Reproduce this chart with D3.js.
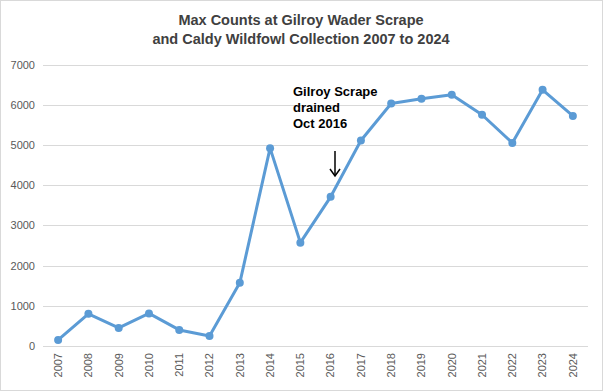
<!DOCTYPE html>
<html><head><meta charset="utf-8">
<script src="https://cdn.jsdelivr.net/npm/d3@7"></script>
<style>html,body{margin:0;padding:0;background:#fff;}svg{display:block;}</style>
</head><body>
<script>
const years = ["2007","2008","2009","2010","2011","2012","2013","2014","2015","2016","2017","2018","2019","2020","2021","2022","2023","2024"];
const counts = [150,800,450,810,400,250,1570,4920,2570,3710,5110,6030,6150,6250,5750,5050,6370,5720];
const yTicks = [0,1000,2000,3000,4000,5000,6000,7000];
const titleLines = ["Max Counts at Gilroy Wader Scrape","and Caldy Wildfowl Collection 2007 to 2024"];
const noteLines = ["Gilroy Scrape","drained","Oct 2016"];

const W=603,H=391;
const svg=d3.select("body").append("svg").attr("width",W).attr("height",H);
svg.append("rect").attr("x",0.5).attr("y",0.5).attr("width",W-1).attr("height",H-1).attr("fill","#fff").attr("stroke","#d9d9d9");

const m={l:43,r:15};
const x=d3.scaleBand().domain(years).range([m.l,W-m.r]);
const y=d3.scaleLinear().domain([0,7000]).range([346,64.5]);

// grid
svg.append("g").selectAll("line").data(yTicks).join("line")
  .attr("x1",m.l).attr("x2",W-m.r).attr("y1",d=>Math.round(y(d))+0.5).attr("y2",d=>Math.round(y(d))+0.5)
  .attr("stroke","#d9d9d9").attr("stroke-width",1);

// y axis labels
const ya=svg.append("g").attr("transform",`translate(${m.l},0)`).call(d3.axisLeft(y).tickValues(yTicks).tickSize(0).tickPadding(8).tickFormat(d3.format("d")));
ya.select(".domain").remove();
ya.selectAll("text").attr("font-family","Liberation Sans, Arial, sans-serif").attr("font-size","11px").attr("fill","#595959");

// x axis labels
const xa=svg.append("g").attr("transform",`translate(0,346)`).call(d3.axisBottom(x).tickSize(0).tickPadding(0));
xa.select(".domain").remove();
xa.selectAll("text").attr("font-family","Liberation Sans, Arial, sans-serif").attr("font-size","11px").attr("fill","#595959")
  .attr("transform","rotate(-90)").attr("text-anchor","end").attr("dy","0.35em").attr("x",-7).attr("y",0);

// line
const line=d3.line().x((d,i)=>x(years[i])+x.bandwidth()/2).y(d=>y(d));
svg.append("path").datum(counts).attr("d",line).attr("fill","none").attr("stroke","#5b9bd5").attr("stroke-width",3).attr("stroke-linejoin","round");
svg.append("g").selectAll("circle").data(counts).join("circle")
  .attr("cx",(d,i)=>x(years[i])+x.bandwidth()/2).attr("cy",d=>y(d)).attr("r",4).attr("fill","#5b9bd5");

// title
svg.append("text").attr("x",301).attr("y",25).attr("text-anchor","middle")
  .attr("font-family","Liberation Sans, Arial, sans-serif").attr("font-weight","bold").attr("font-size","14.5px").attr("fill","#404040")
  .selectAll("tspan").data(titleLines).join("tspan").attr("x",301).attr("dy",(d,i)=>i?19:0).text(d=>d);

// annotation
svg.append("text").attr("x",293).attr("y",96)
  .attr("font-family","Liberation Sans, Arial, sans-serif").attr("font-weight","bold").attr("font-size","13px").attr("fill","#000")
  .selectAll("tspan").data(noteLines).join("tspan").attr("x",293).attr("dy",(d,i)=>i?16:0).text(d=>d);
const ax=335;
svg.append("line").attr("x1",ax).attr("x2",ax).attr("y1",151).attr("y2",176).attr("stroke","#000").attr("stroke-width",1.5);
svg.append("path").attr("d",`M${ax-5},${169} L${ax},${176} L${ax+5},${169}`).attr("fill","none").attr("stroke","#000").attr("stroke-width",1.5);
</script>
</body></html>
